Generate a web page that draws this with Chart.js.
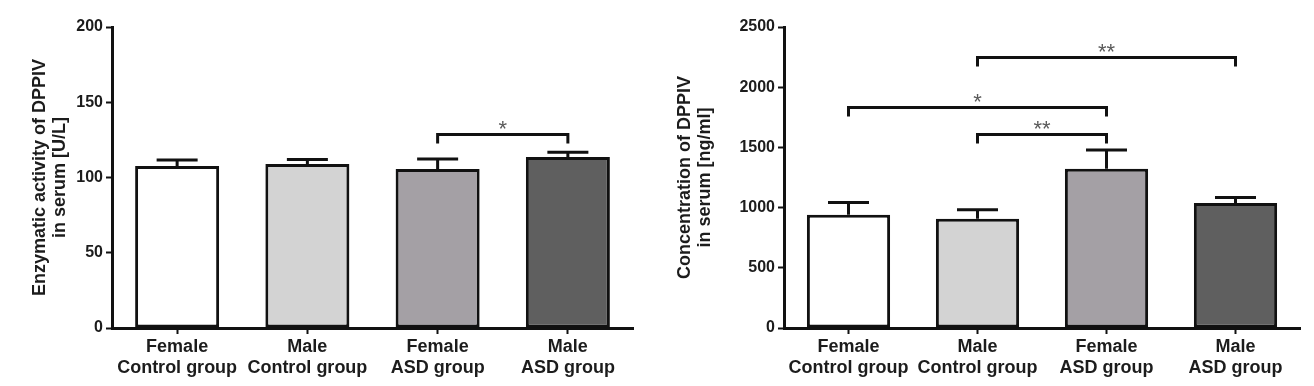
<!DOCTYPE html>
<html><head><meta charset="utf-8">
<script src="https://cdn.jsdelivr.net/npm/chart.js@4.4.1/dist/chart.umd.min.js"></script>
<style>
html,body{margin:0;padding:0;background:#fff;}
#wrap{position:relative;width:1314px;height:386px;}
.box{position:absolute;top:0;width:657px;height:386px;}
</style></head><body>
<div id="wrap">
  <div class="box" style="left:0"><canvas id="c1"></canvas></div>
  <div class="box" style="left:657px"><canvas id="c2"></canvas></div>
</div>
<script>
// ---- data ----
const categories = [["Female", "Control group"], ["Male", "Control group"], ["Female", "ASD group"], ["Male", "ASD group"]];
const activityMean = [107.6, 109.0, 105.6, 113.6];
const activityErrTop = [111.6, 112.0, 112.3, 116.7];
const concMean = [940, 907, 1322, 1038];
const concErrTop = [1043, 982, 1478, 1083];
const activityTicks = { max: 200, step: 50 };
const concTicks = { max: 2500, step: 500 };
const activityTitle = ["Enzymatic activity of DPPIV", "in serum [U/L]"];
const concTitle = ["Concentration of DPPIV", "in serum [ng/ml]"];
const activitySigPairs = [[2, 3]];
const activitySigLevels = [129];
const activitySigLabels = ["*"];
const concSigPairs = [[1, 3], [0, 2], [1, 2]];
const concSigLevels = [2253, 1838, 1611];
const concSigLabels = ["**", "*", "**"];

const barColors = ["#ffffff", "#d3d3d3", "#a4a0a5", "#5f5f5f"];
const FAMILY = '"Liberation Sans", Arial, Helvetica, sans-serif';
const TEXT = '#1c1c1c';
const LINE = '#111111';

const errorBarPlugin = {
  id: 'errorBars',
  afterDatasetsDraw(chart, args, opts) {
    const tops = opts.tops; if (!tops) return;
    const ctx = chart.ctx, y = chart.scales.y;
    const meta = chart.getDatasetMeta(0);
    ctx.save();
    ctx.strokeStyle = LINE; ctx.lineWidth = 3; ctx.lineCap = 'butt';
    meta.data.forEach((bar, i) => {
      const yt = y.getPixelForValue(tops[i]);
      ctx.beginPath();
      ctx.moveTo(bar.x, bar.y); ctx.lineTo(bar.x, yt);
      ctx.moveTo(bar.x - 20.5, yt); ctx.lineTo(bar.x + 20.5, yt);
      ctx.stroke();
    });
    ctx.restore();
  }
};

const bracketPlugin = {
  id: 'sigBrackets',
  afterDatasetsDraw(chart, args, opts) {
    const { pairs, levels, labels } = opts; if (!pairs) return;
    const ctx = chart.ctx, x = chart.scales.x, y = chart.scales.y;
    ctx.save();
    pairs.forEach((p, k) => {
      const x1 = x.getPixelForValue(p[0]), x2 = x.getPixelForValue(p[1]);
      const yy = Math.round(y.getPixelForValue(levels[k])) + 0.5;
      ctx.strokeStyle = LINE; ctx.lineWidth = 3; ctx.lineJoin = 'miter'; ctx.lineCap = 'butt';
      ctx.beginPath();
      ctx.moveTo(x1, yy + 9); ctx.lineTo(x1, yy); ctx.lineTo(x2, yy); ctx.lineTo(x2, yy + 9);
      ctx.stroke();
      ctx.fillStyle = '#5a5a5a';
      ctx.font = '22px ' + FAMILY;
      ctx.textAlign = 'center'; ctx.textBaseline = 'alphabetic';
      ctx.fillText(labels[k], (x1 + x2) / 2, yy + 1);
    });
    ctx.restore();
  }
};

function makeChart(id, values, tops, tk, title, leftW, rightPad, titlePad, pairs, levels, labels) {
  return new Chart(document.getElementById(id), {
    type: 'bar',
    data: {
      labels: categories,
      datasets: [{
        data: values,
        backgroundColor: barColors,
        borderColor: LINE,
        borderWidth: 3,
        borderSkipped: false,
        barPercentage: 0.645,
        categoryPercentage: 1
      }]
    },
    options: {
      responsive: true, maintainAspectRatio: false, animation: false,
      layout: { padding: { top: 27, right: rightPad, left: 0, bottom: 0 } },
      plugins: {
        legend: { display: false }, tooltip: { enabled: false },
        errorBars: { tops: tops },
        sigBrackets: { pairs: pairs, levels: levels, labels: labels }
      },
      scales: {
        x: {
          grid: { display: true, drawOnChartArea: false, offset: false, tickLength: 6, tickWidth: 2, tickColor: LINE },
          border: { display: true, color: LINE, width: 3 },
          ticks: { color: TEXT, font: { family: FAMILY, size: 18, weight: 'bold', lineHeight: 1.2 }, padding: 2, maxRotation: 0, autoSkip: false },
          afterFit(s) { s.height = 58; }
        },
        y: {
          min: 0, max: tk.max,
          ticks: { stepSize: tk.step, color: TEXT, font: { family: FAMILY, size: 16, weight: 'bold' }, padding: 3, callback: (v) => String(v) },
          grid: { display: true, drawOnChartArea: false, tickLength: 6, tickWidth: 2, tickColor: LINE },
          border: { display: true, color: LINE, width: 3 },
          title: { display: true, text: title, color: TEXT, font: { family: FAMILY, size: 18, weight: 'bold', lineHeight: 1.1 }, padding: { top: titlePad, bottom: 0 } },
          afterFit(s) { s.width = leftW; }
        }
      }
    },
    plugins: [errorBarPlugin, bracketPlugin]
  });
}

makeChart('c1', activityMean, activityErrTop, activityTicks, activityTitle, 112, 24, 30, activitySigPairs, activitySigLevels, activitySigLabels);
makeChart('c2', concMean, concErrTop, concTicks, concTitle, 127, 14, 18, concSigPairs, concSigLevels, concSigLabels);
</script>
</body></html>
